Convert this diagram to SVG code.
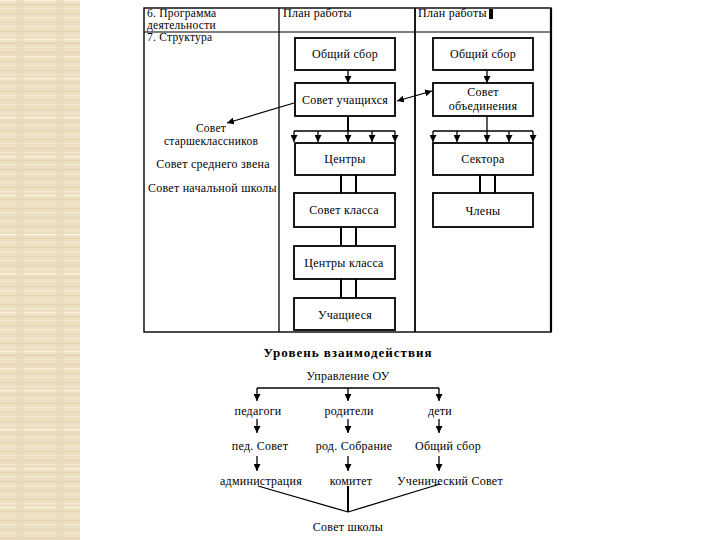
<svg xmlns="http://www.w3.org/2000/svg" width="720" height="540" viewBox="0 0 720 540">
<defs>
<pattern id="beige" x="0" y="0" width="80" height="39" patternUnits="userSpaceOnUse">
<rect width="80" height="39" fill="#ECDFC2"/>
<rect y="0" width="80" height="1.5" fill="#F8F1DE"/>
<rect y="4" width="80" height="1" fill="#E2D2B0"/>
<rect y="8" width="80" height="1" fill="#F3EAD2"/>
<rect y="13" width="80" height="1" fill="#E2D2B0"/>
<rect y="17" width="80" height="1.5" fill="#F4EBD4"/>
<rect y="22" width="80" height="1" fill="#E4D5B4"/>
<rect y="26" width="80" height="1" fill="#F3EAD2"/>
<rect y="31" width="80" height="1" fill="#E2D2B0"/>
<rect y="35" width="80" height="1" fill="#F3EAD2"/>
<rect x="16" width="8" height="39" fill="#E8DABB" opacity="0.6"/>
<rect x="56" width="8" height="39" fill="#E8DABB" opacity="0.6"/>
</pattern>
<marker id="ah" viewBox="0 0 10 10" refX="10" refY="5" markerWidth="7" markerHeight="7" markerUnits="userSpaceOnUse" orient="auto-start-reverse">
<path d="M0,0 L10,5 L0,10 z" fill="#000"/>
</marker>
</defs>
<style>
text{font-family:"Liberation Serif","Times New Roman",serif;font-size:12px;letter-spacing:0.25px;fill:#000}
.c{text-anchor:middle}
.sm{font-size:11.5px}
.box{fill:#fff;stroke:#000;stroke-width:1.8}
.ln{stroke:#000;stroke-width:1.3;fill:none}
.th{stroke:#000;stroke-width:2;fill:none}
.ar{stroke:#000;stroke-width:1.3;fill:none;marker-end:url(#ah)}
.bd{font-weight:bold;font-size:13px;letter-spacing:1px}
</style>
<rect width="720" height="540" fill="#fff"/>
<rect x="0" y="0" width="80" height="540" fill="url(#beige)"/>

<g id="table">
<rect x="144" y="8" width="407" height="324" fill="none" stroke="#000" stroke-width="1.4"/>
<line x1="551" y1="8" x2="551" y2="332" stroke="#000" stroke-width="2.2"/>
<line x1="144" y1="32" x2="551" y2="32" stroke="#000" stroke-width="1.2"/>
<line x1="279" y1="8" x2="279" y2="332" stroke="#000" stroke-width="1.3"/>
<line x1="415" y1="8" x2="415" y2="332" stroke="#000" stroke-width="1.8"/>
<text class="sm" x="147" y="17">6. Программа</text>
<text class="sm" x="147" y="29">деятельности</text>
<text class="sm" x="147" y="41">7. Структура</text>
<text x="283" y="17">План работы</text>
<text x="418" y="17">План работы</text>
<rect x="489" y="9" width="4" height="10" fill="#000"/>
</g>

<g id="left-labels">
<text class="c sm" x="211" y="132">Совет</text>
<text class="c sm" x="211" y="145">старшеклассников</text>
<text class="c" x="213" y="168">Совет среднего звена</text>
<text x="148" y="192">Совет начальной школы</text>
</g>

<g id="connectors">
<line class="ar" x1="348" y1="70" x2="348" y2="83"/>
<line class="ar" x1="487" y1="70" x2="487" y2="83"/>
<line class="ar" x1="294" y1="103" x2="227" y2="123"/>
<line class="ln" x1="397" y1="101" x2="432" y2="91" marker-start="url(#ah)" marker-end="url(#ah)"/>
<line class="th" x1="348" y1="116" x2="348" y2="131"/>
<line class="ln" x1="294" y1="131" x2="395" y2="131"/>
<line class="ar" x1="294" y1="131" x2="294" y2="142"/>
<line class="ar" x1="318" y1="131" x2="318" y2="142"/>
<line class="ar" x1="348" y1="131" x2="348" y2="142"/>
<line class="ar" x1="372" y1="131" x2="372" y2="142"/>
<line class="ar" x1="395" y1="131" x2="395" y2="142"/>
<line class="ln" x1="487" y1="116" x2="487" y2="131"/>
<line class="ln" x1="433" y1="131" x2="533" y2="131"/>
<line class="ar" x1="433" y1="131" x2="433" y2="142"/>
<line class="ar" x1="457" y1="131" x2="457" y2="142"/>
<line class="ar" x1="487" y1="131" x2="487" y2="142"/>
<line class="ar" x1="509" y1="131" x2="509" y2="142"/>
<line class="ar" x1="533" y1="131" x2="533" y2="142"/>
<line class="th" x1="341" y1="175" x2="341" y2="193"/>
<line class="th" x1="356" y1="175" x2="356" y2="193"/>
<line class="th" x1="341" y1="227" x2="341" y2="246"/>
<line class="th" x1="356" y1="227" x2="356" y2="246"/>
<line class="th" x1="341" y1="279" x2="341" y2="298"/>
<line class="th" x1="356" y1="279" x2="356" y2="298"/>
<line class="th" x1="480" y1="175" x2="480" y2="193"/>
<line class="th" x1="495" y1="175" x2="495" y2="193"/>
<line class="ln" x1="257" y1="388" x2="439" y2="388"/>
<line class="ar" x1="257" y1="388" x2="257" y2="401"/>
<line class="ar" x1="348" y1="388" x2="348" y2="401"/>
<line class="ar" x1="439" y1="388" x2="439" y2="401"/>
<line class="ar" x1="257" y1="419" x2="257" y2="433"/>
<line class="ar" x1="348" y1="419" x2="348" y2="433"/>
<line class="ar" x1="439" y1="419" x2="439" y2="433"/>
<line class="ar" x1="257" y1="456" x2="257" y2="471"/>
<line class="ar" x1="348" y1="456" x2="348" y2="471"/>
<line class="ar" x1="439" y1="456" x2="439" y2="471"/>
<line class="ln" x1="258" y1="486" x2="348" y2="512"/>
<line class="th" x1="348" y1="486" x2="348" y2="512"/>
<line class="ln" x1="440" y1="484" x2="348" y2="512"/>
</g>

<g id="n-obshchiy1"><rect class="box" x="295" y="38" width="100" height="32"/><text class="c" x="345" y="58">Общий сбор</text></g>
<g id="n-sovet-uch"><rect class="box" x="295" y="83" width="100" height="33"/><text class="c" x="345" y="104">Совет учащихся</text></g>
<g id="n-centry"><rect class="box" x="295" y="143" width="100" height="32"/><text class="c" x="345" y="163">Центры</text></g>
<g id="n-sovet-klassa"><rect class="box" x="294" y="193" width="101" height="34"/><text class="c" x="344" y="214">Совет класса</text></g>
<g id="n-centry-klassa"><rect class="box" x="294" y="246" width="101" height="33"/><text class="c" x="344" y="267">Центры класса</text></g>
<g id="n-uchashchiesya"><rect class="box" x="294" y="298" width="101" height="32"/><text class="c" x="345" y="319">Учащиеся</text></g>
<g id="n-obshchiy2"><rect class="box" x="433" y="38" width="100" height="32"/><text class="c" x="483" y="58">Общий сбор</text></g>
<g id="n-sovet-ob"><rect class="box" x="433" y="83" width="100" height="33"/><text class="c" x="483" y="96">Совет</text><text class="c" x="483" y="110">объединения</text></g>
<g id="n-sektora"><rect class="box" x="433" y="143" width="100" height="32"/><text class="c" x="483" y="163">Сектора</text></g>
<g id="n-chleny"><rect class="box" x="433" y="193" width="100" height="34"/><text class="c" x="483" y="215">Члены</text></g>

<g id="lower">
<text class="c bd" x="348" y="357">Уровень взаимодействия</text>
<g id="n-upr"><text class="c" x="348" y="380">Управление ОУ</text></g>
<g id="n-ped"><text class="c" x="258" y="415">педагоги</text></g>
<g id="n-rod"><text class="c" x="349" y="415">родители</text></g>
<g id="n-deti"><text class="c" x="440" y="415">дети</text></g>
<g id="n-pedsovet"><text class="c" x="260" y="450">пед. Совет</text></g>
<g id="n-rodsobr"><text class="c" x="354" y="450">род. Собрание</text></g>
<g id="n-obshchiy3"><text class="c" x="448" y="450">Общий сбор</text></g>
<g id="n-admin"><text class="c" x="261" y="485">администрация</text></g>
<g id="n-komitet"><text class="c" x="351" y="485">комитет</text></g>
<g id="n-uchsovet"><text class="c" x="450" y="485">Ученический Совет</text></g>
<g id="n-sovet-shkoly"><text class="c" x="348" y="531">Совет школы</text></g>
</g>
</svg>
